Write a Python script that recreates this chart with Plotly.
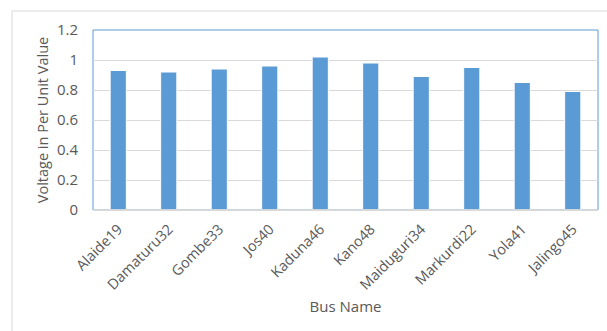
import plotly.graph_objects as go

buses = ["Alaide19", "Damaturu32", "Gombe33", "Jos40", "Kaduna46", "Kano48",
         "Maiduguri34", "Markurdi22", "Yola41", "Jalingo45"]
voltage_pu = [0.93, 0.92, 0.94, 0.96, 1.02, 0.98, 0.89, 0.95, 0.85, 0.79]
y_ticks = [0, 0.2, 0.4, 0.6, 0.8, 1, 1.2]
y_tick_text = ["0", "0.2", "0.4", "0.6", "0.8", "1", "1.2"]

W, H = 607, 331
ML, MR, MT, MB = 93, 9, 30, 121
pw, ph = W - ML - MR, H - MT - MB

def px_x(x):
    return (x - ML) / pw

def px_y(y):
    return (H - MB - y) / ph

font_fam = "Open Sans, Noto Sans, sans-serif"
grey_txt = "#595959"

fig = go.Figure(go.Bar(
    x=buses, y=voltage_pu,
    marker=dict(color="#5B9BD5", line=dict(color="white", width=1)),
))

fig.update_layout(
    width=W, height=H,
    margin=dict(l=ML, r=MR, t=MT, b=MB),
    paper_bgcolor="white", plot_bgcolor="white",
    bargap=0.68,
    showlegend=False,
    font=dict(family=font_fam, color=grey_txt, size=12),
    xaxis=dict(
        tickangle=-45,
        showline=True, linecolor="#D9D9D9", linewidth=1,
        showgrid=False, ticks="",
        ticklabelstandoff=4,
        tickfont=dict(size=14.5, color=grey_txt),
        title=dict(text="Bus Name", font=dict(size=15, color=grey_txt), standoff=8),
    ),
    yaxis=dict(
        range=[0, 1.2],
        tickvals=y_ticks, ticktext=y_tick_text,
        showgrid=True, gridcolor="#D9D9D9", gridwidth=1,
        zeroline=False, showline=False, ticks="",
        ticklabelstandoff=14,
        tickfont=dict(size=15, color=grey_txt),
        title=dict(text="Voltage in Per Unit Value", font=dict(size=14.5, color=grey_txt), standoff=4),
    ),
    shapes=[
        dict(type="rect", xref="paper", yref="paper",
             x0=px_x(12), x1=px_x(612), y0=px_y(345), y1=px_y(11),
             line=dict(color="#D9D9D9", width=1), fillcolor="rgba(0,0,0,0)", layer="below"),
        dict(type="rect", xref="paper", yref="paper",
             x0=0, x1=1, y0=0, y1=1,
             line=dict(color="#5B9BD5", width=1), fillcolor="rgba(0,0,0,0)", layer="below"),
        dict(type="line", xref="paper", yref="paper",
             x0=0, x1=1, y0=0, y1=0,
             line=dict(color="#D9D9D9", width=1.5), layer="above"),
    ],
)

fig.write_html("out.html")
